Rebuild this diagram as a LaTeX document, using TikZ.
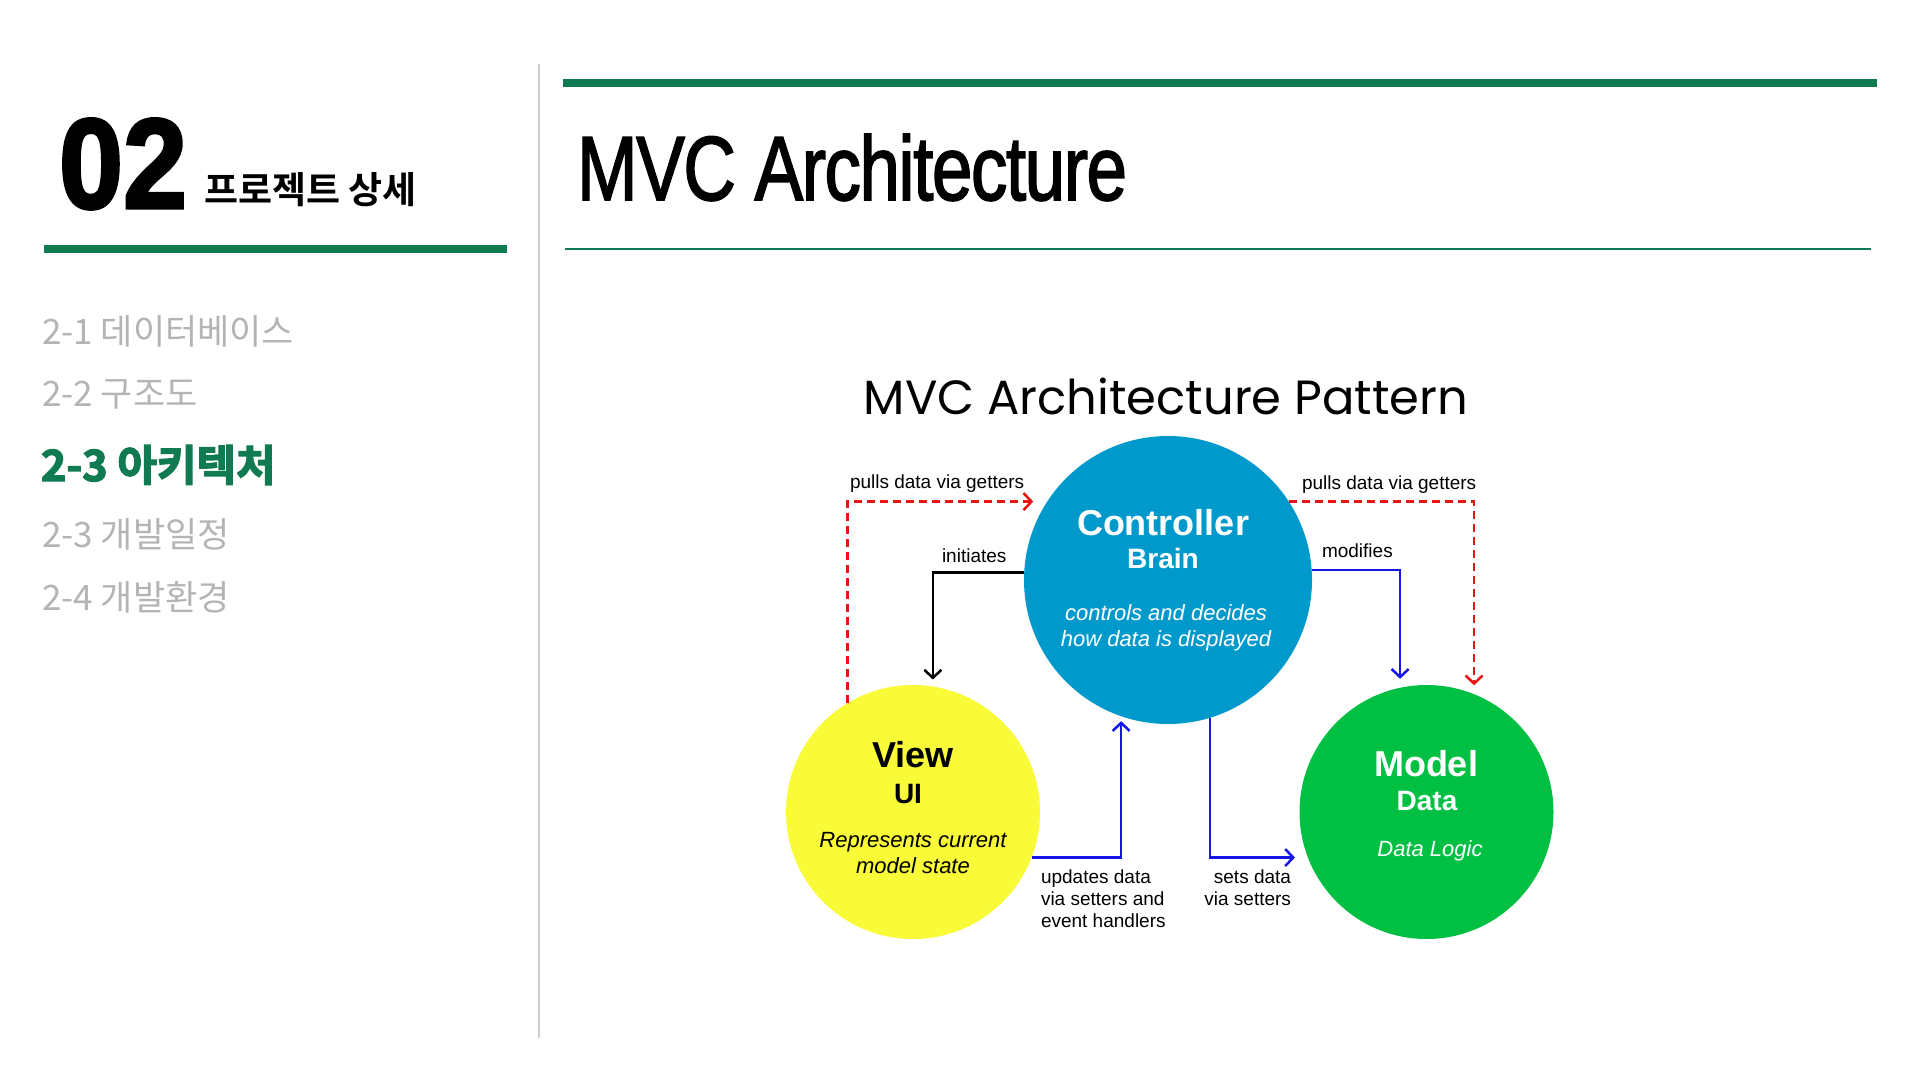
\documentclass[tikz,border=0pt]{standalone}
\usepackage{fontspec}
\usetikzlibrary{arrows.meta}
\setmainfont{Liberation Sans}
\newfontfamily\krfont{Noto Sans CJK KR}
\newfontfamily\krboldfont{Noto Sans CJK KR}[UprightFont=* Bold]
\newfontfamily\krheavyfont{Noto Sans CJK KR}[UprightFont=* Bold, FakeBold=3]
\newfontfamily\numfont{Liberation Sans}[UprightFont=* Bold, FakeBold=2.5]
\newfontfamily\headfont{Liberation Sans}[FakeBold=2, LetterSpace=-2]
\newfontfamily\patternfont{Poppins}
\newcommand\fsz[1]{\fontsize{#1}{#1}\selectfont}

\definecolor{brandgreen}{RGB}{16,122,80}
\definecolor{menugray}{RGB}{180,180,180}
\definecolor{rulegray}{RGB}{205,205,205}
\definecolor{ctrlblue}{RGB}{0,153,204}
\definecolor{viewyellow}{RGB}{249,250,56}
\definecolor{modelgreen}{RGB}{0,192,67}
\definecolor{arrowred}{RGB}{232,20,20}
\definecolor{arrowblue}{RGB}{20,20,235}

\begin{document}
\begin{tikzpicture}[x=1pt, y=-1pt,
  txt/.style={inner sep=0pt, outer sep=0pt},
  role/.style={circle, inner sep=0pt, outer sep=0pt},
  link/.style={line width=2.5pt, -{Straight Barb[length=8pt, width=17pt, line width=2.5pt]}},
  getter/.style={link, arrowred, dash pattern=on 8pt off 5pt},
  setter/.style={link, arrowblue},
  lbl/.style={txt, font=\fsz{19}},
  menu/.style={txt, anchor=base west, font=\krfont\fsz{35}, text=menugray}]

% page
\fill[white] (0,0) rectangle (1920,1080);
\useasboundingbox (0,0) rectangle (1920,1080);

% ---- left column: chapter heading and section list ----
\node[txt, anchor=base west] (chapnum) at (59,208) {\numfont\fsz{128}\scalebox{0.9}[1]{02}};
\node[txt, anchor=base west] (chaptitle) at (204,203) {\krboldfont\fsz{37}프로젝트 상세};
\fill[brandgreen] (44,245) rectangle (507,253);

\node[menu] (sec1) at (42,344) {2-1 데이터베이스};
\node[menu] (sec2) at (42,406) {2-2 구조도};
\node[menu, font=\krheavyfont\fsz{43}, text=brandgreen] (sec3) at (41,481) {2-3 아키텍처};
\node[menu] (sec4) at (42,547) {2-3 개발일정};
\node[menu] (sec5) at (42,610) {2-4 개발환경};

% column divider
\draw[rulegray, line width=1.5pt] (539,64) -- (539,1038);

% ---- right column: page title ----
\fill[brandgreen] (563,79) rectangle (1877,87);
\node[txt, anchor=base west] (pagetitle) at (577,200) {\scalebox{0.8}[1]{\headfont\fsz{91}MVC Architecture}};
\draw[brandgreen, line width=1.5pt] (565,249) -- (1871,249);

% ---- MVC diagram ----
\node[txt, anchor=base] (diagtitle) at (1166,414) {\patternfont\fsz{48}MVC Architecture Pattern};

\node[role, fill=ctrlblue, minimum size=288pt] (ctrl) at (1168,580) {};
\node[role, fill=viewyellow, minimum size=254pt] (view) at (913,812) {};
\node[role, fill=modelgreen, minimum size=254pt] (model) at (1426.5,812) {};

% controller text
\node[txt, anchor=base, text=white, font=\bfseries\fsz{36}] (ctrlname) at (1163,535) {Controller};
\node[txt, anchor=base, text=white, font=\bfseries\fsz{28}] (ctrlrole) at (1163,568) {Brain};
\node[txt, anchor=base, text=white, font=\itshape\fsz{22}] (ctrldesc1) at (1166,620) {controls and decides};
\node[txt, anchor=base, text=white, font=\itshape\fsz{22}] (ctrldesc2) at (1166,646) {how data is displayed};

% view text
\node[txt, anchor=base, font=\bfseries\fsz{36}] (viewname) at (913,767) {View};
\node[txt, anchor=base, font=\bfseries\fsz{28}] (viewrole) at (908,803) {UI};
\node[txt, anchor=base, font=\itshape\fsz{22}] (viewdesc1) at (913,847) {Represents current};
\node[txt, anchor=base, font=\itshape\fsz{22}] (viewdesc2) at (913,873) {model state};

% model text
\node[txt, anchor=base, text=white, font=\bfseries\fsz{36}] (modelname) at (1426,776) {Model};
\node[txt, anchor=base, text=white, font=\bfseries\fsz{28}] (modelrole) at (1427,810) {Data};
\node[txt, anchor=base, text=white, font=\itshape\fsz{22}] (modeldesc) at (1430,856) {Data Logic};

% connectors
\draw[getter, shorten >=14pt] (view.121) |- (ctrl.147);
\draw[getter, shorten >=9pt] (ctrl.33) -| (model.68);
\draw[link, black, shorten >=7pt] (ctrl.177) -| (view.81);
\draw[setter, shorten >=9pt] (ctrl.4) -| (model.102);
\draw[setter, shorten >=5pt] (view.-21) -| (ctrl.-109);
\draw[setter, shorten >=13pt] (ctrl.-73) |- (model.201);

% connector labels
\node[lbl, anchor=base west] (pullL) at (850,488) {pulls data via getters};
\node[lbl, anchor=base west] (pullR) at (1302,489) {pulls data via getters};
\node[lbl, anchor=base west] (initlbl) at (942,562) {initiates};
\node[lbl, anchor=base west] (modlbl) at (1322,557) {modifies};
\node[lbl, anchor=base west] (updlbl1) at (1041,883) {updates data};
\node[lbl, anchor=base west] (updlbl2) at (1041,905) {via setters and};
\node[lbl, anchor=base west] (updlbl3) at (1041,927) {event handlers};
\node[lbl, anchor=base east] (setlbl1) at (1291,883) {sets data};
\node[lbl, anchor=base east] (setlbl2) at (1291,905) {via setters};
\end{tikzpicture}
\end{document}
